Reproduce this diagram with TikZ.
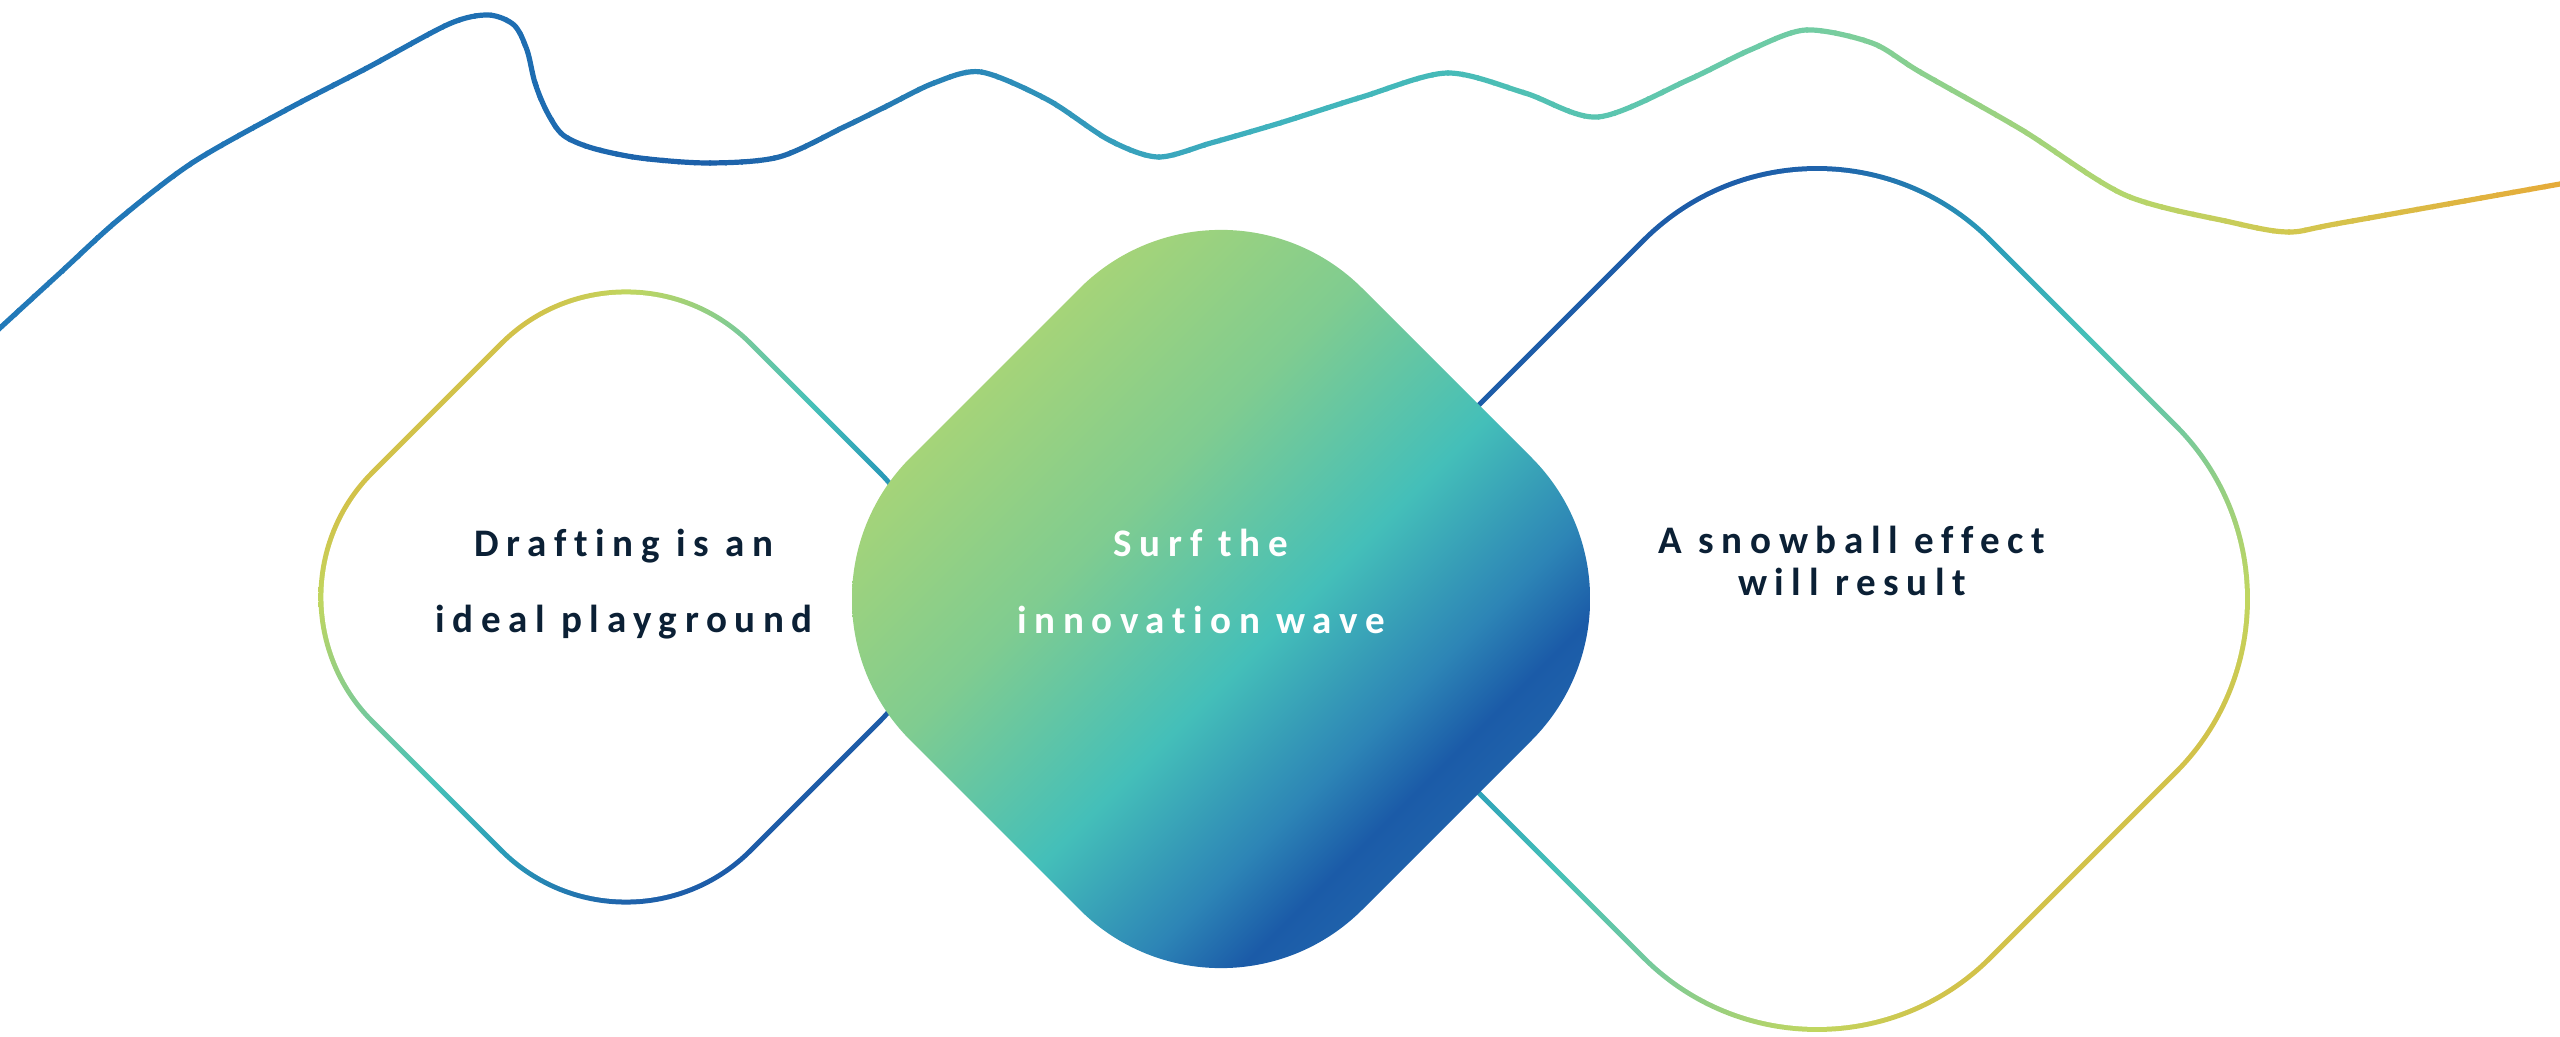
\documentclass[tikz,border=0pt]{standalone}
\usepackage{fontspec}
\newfontfamily\lblfam[LetterSpace=19.5, Ligatures={NoCommon}]{Carlito}
\newcommand\lblfont{\lblfam\bfseries\fontsize{11.1pt}{13pt}\selectfont}
% wave colours
\definecolor{w0}{HTML}{2279B8}
\definecolor{w1}{HTML}{1F70B3}
\definecolor{w2}{HTML}{1C5FA9}
\definecolor{w3}{HTML}{2A88B8}
\definecolor{w4}{HTML}{3AA6BD}
\definecolor{w5}{HTML}{40B3BD}
\definecolor{w6}{HTML}{45BAB8}
\definecolor{w7}{HTML}{5AC5B0}
\definecolor{w8}{HTML}{72CCA4}
\definecolor{w9}{HTML}{8AD08E}
\definecolor{w10}{HTML}{B5D66C}
\definecolor{w11}{HTML}{D2C850}
\definecolor{w12}{HTML}{E6AA38}
% ring colours
\definecolor{rA}{HTML}{1D5CA8}
\definecolor{rB}{HTML}{1F63AB}
\definecolor{rC}{HTML}{2A9CB8}
\definecolor{rD}{HTML}{45C0B8}
\definecolor{rE}{HTML}{72C99E}
\definecolor{rF}{HTML}{C0D660}
\definecolor{rG}{HTML}{D2C24A}
% middle colours
\definecolor{mA}{HTML}{A6D478}
\definecolor{mB}{HTML}{80CC90}
\definecolor{mC}{HTML}{44BFB9}
\definecolor{mD}{HTML}{2D85B6}
\definecolor{mE}{HTML}{1B5BA8}
\definecolor{mF}{HTML}{1F62AB}
\definecolor{navy}{HTML}{0B2035}
\pgfdeclarehorizontalshading{ringshade}{100bp}{color(0bp)=(rA); color(28.3bp)=(rA); color(32.5bp)=(rB); color(42.4bp)=(rC); color(50.3bp)=(rD); color(57.6bp)=(rE); color(67.6bp)=(rF); color(71.7bp)=(rG); color(100bp)=(rG)}
\pgfdeclarehorizontalshading{midshade}{100bp}{color(0bp)=(mA); color(28bp)=(mA); color(41.2bp)=(mB); color(54.1bp)=(mC); color(63.6bp)=(mD); color(68.7bp)=(mE); color(72bp)=(mF); color(100bp)=(mF)}
\newcommand\rdpath[1]{(0,#1) -- (#1,0) -- (0,-#1) -- (-#1,0) -- cycle}
\tikzset{
  wave/.style={insert path={plot[smooth, tension=0.5] coordinates {(-40,-365) (0,-328) (60,-273) (118,-220) (192,-163) (286,-110) (367,-68) (449,-24) (488,-15) (514,-25) (527,-50) (535,-83) (547,-112) (563,-135) (592,-148) (640,-158) (709,-163) (779,-157) (844,-127) (885,-107) (934,-83) (981,-72) (1048,-100) (1109,-140) (1158,-157) (1211,-143) (1280,-123) (1362,-97) (1447,-73) (1525,-93) (1598,-117) (1688,-80) (1750,-50) (1806,-30) (1872,-43) (1920,-72) (2022,-130) (2125,-195) (2230,-222) (2288,-232) (2341,-223) (2560,-184) (2600,-177)}}},
  wavestroke/.style={line width=0.052cm, line join=round},
  lbl/.style={font=\lblfont, text=navy, inner sep=0pt, anchor=base}
}
\begin{document}
\begin{tikzpicture}[x=0.01cm, y=0.01cm]
\useasboundingbox (0,-1037) rectangle (2560,0);
% wave line with horizontal gradient
\foreach \wxa/\wxb/\wca/\wcb in {0/490/w0/w1, 490/709/w1/w2, 709/981/w2/w3, 981/1158/w3/w4, 1158/1280/w4/w5, 1280/1447/w5/w6, 1447/1598/w6/w7, 1598/1806/w7/w8, 1806/1920/w8/w9, 1920/2129/w9/w10, 2129/2288/w10/w11, 2288/2560/w11/w12} {
  \pgfmathtruncatemacro\wn{ceil((\wxb-\wxa)/16)}
  \foreach \wk in {1,...,\wn} {
    \pgfmathsetmacro\wxl{\wxa+(\wk-1)*(\wxb-\wxa)/\wn}
    \pgfmathsetmacro\wxr{\wxa+\wk*(\wxb-\wxa)/\wn+2}
    \pgfmathtruncatemacro\wpc{round(100-100*(\wk-0.5)/\wn)}
    \begin{scope}
      \clip (\wxl,-1100) rectangle (\wxr,60);
      \draw[wavestroke, color=\wca!\wpc!\wcb, wave];
    \end{scope}
  }
}
% left outline
\begin{scope}[shift={(626,-597)}]
  \begin{scope}
    \clip[rounded corners=1.785cm] \rdpath{381.54};
    \shade[shading=ringshade, shading angle=135] (-307.6,-307.6) rectangle (307.6,307.6);
  \end{scope}
  \fill[white, rounded corners=1.735cm] \rdpath{374.46};
\end{scope}
% right outline
\begin{scope}[shift={(1817,-599)}]
  \begin{scope}
    \clip[rounded corners=2.475cm] \rdpath{535.54};
    \shade[shading=ringshade, shading angle=-45] (-433,-433) rectangle (433,433);
  \end{scope}
  \fill[white, rounded corners=2.425cm] \rdpath{528.46};
\end{scope}
% middle filled shape
\begin{scope}[shift={(1221,-599)}]
  \clip[rounded corners=2cm] \rdpath{452};
  \shade[shading=midshade, shading angle=-45] (-369,-369) rectangle (369,369);
\end{scope}
% texts
\node[lbl] (t1a) at (624,-557) {Drafting is an};
\node[lbl] (t1b) at (624,-633) {ideal playground};
\node[lbl, text=white] (t2a) at (1201,-557) {Surf the};
\node[lbl, text=white] (t2b) at (1201,-634) {innovation wave};
\node[lbl] (t3a) at (1852,-554) {A snowball effect};
\node[lbl] (t3b) at (1852,-596) {will result};
\end{tikzpicture}
\end{document}
